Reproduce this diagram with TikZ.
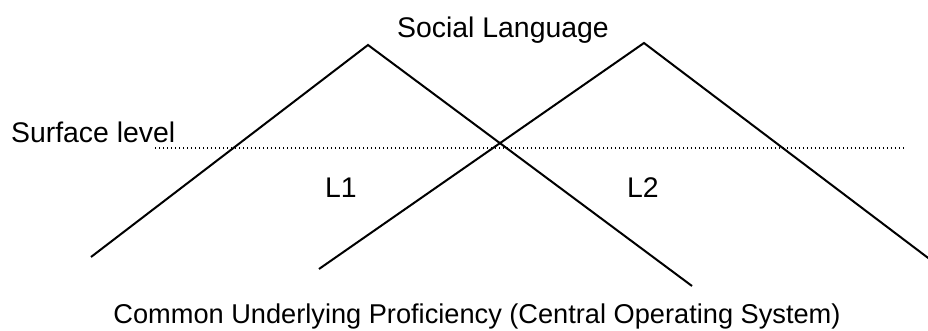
\documentclass[tikz,border=0pt]{standalone}
\usepackage{fontspec}
\setmainfont{Liberation Sans}
\begin{document}
\begin{tikzpicture}[x=0.5pt, y=-0.5pt, font=\fontsize{14.2}{17}\selectfont]
  \useasboundingbox (0,0) rectangle (928,331);
  \clip (0,0) rectangle (928,331);

  % Les sommets
  \coordinate (g1) at (91,257);
  \coordinate (s1) at (368,45);
  \coordinate (d1) at (692,286);
  \coordinate (g2) at (319,269);
  \coordinate (s2) at (644,43);
  \coordinate (d2) at (948,273);

  % Les triangles
  \draw[line width=1pt] (g1) -- (s1) -- (d1);
  \draw[line width=1pt] (g2) -- (s2) -- (d2);

  % La surface
  \coordinate (n0) at (155,148);
  \coordinate (n1) at (905,148);
  \draw[line width=0.6pt, dash pattern=on 0.6pt off 1.4pt] (n0) -- (n1);

  % Les textes
  \node (social) at (503,30) {Social Language};
  \node[anchor=west] (surface) at (4,132) {Surface level};
  \node (l1) at (341,188) {L1};
  \node (l2) at (643,188) {L2};
  \node[font=\fontsize{13.6}{16}\selectfont] (cup) at (477,316) {Common Underlying Proficiency (Central Operating System)};

\end{tikzpicture}
\end{document}
